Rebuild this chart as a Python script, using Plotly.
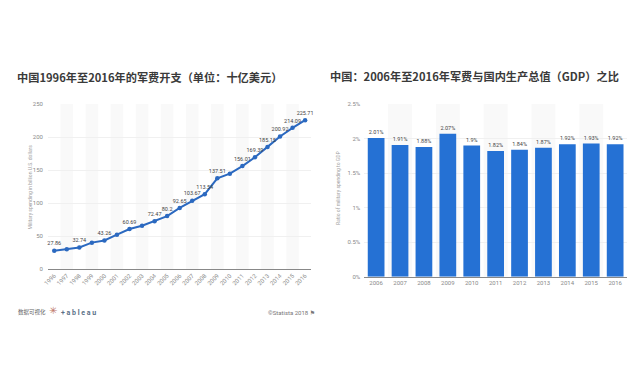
import plotly.graph_objects as go

W, H = 640, 379

# Left chart data
years_l = list(range(1996, 2017))
spend = [27.86, 30.0, 32.74, 40.0, 43.26, 52.0, 60.69, 65.5, 72.47, 80.2, 92.65,
         103.67, 113.54, 137.51, 144.5, 156.01, 169.39, 185.15, 200.92, 214.09, 225.71]
spend_labels = ["27.86", "", "32.74", "", "43.26", "", "60.69", "", "72.47", "80.2", "92.65",
                "103.67", "113.54", "137.51", "", "156.01", "169.39", "185.15", "200.92", "214.09", "225.71"]
ticks_l = [0, 50, 100, 150, 200, 250]

# Right chart data
years_r = list(range(2006, 2017))
ratio = [2.01, 1.91, 1.88, 2.07, 1.9, 1.82, 1.84, 1.87, 1.92, 1.93, 1.92]
ratio_labels = ["2.01%", "1.91%", "1.88%", "2.07%", "1.9%", "1.82%", "1.84%", "1.87%", "1.92%", "1.93%", "1.92%"]
ticks_r = [0, 0.5, 1, 1.5, 2, 2.5]
ticks_r_text = ["0%", "0.5%", "1%", "1.5%", "2%", "2.5%"]

BLUE = "#2571d4"
FONT = "Noto Sans CJK SC, Roboto, sans-serif"
TICK = dict(family="Roboto, sans-serif", size=6, color="#8a8a8a")
LBL = dict(family="Roboto, sans-serif", size=5.5, color="#444444")


def px_x(p):
    return p / W


def px_y(p):
    return 1 - p / H


fig = go.Figure()

fig.add_trace(go.Scatter(
    x=years_l, y=spend, mode="lines+markers+text", text=spend_labels,
    textposition="top center", textfont=LBL,
    line=dict(color="#2b69c0", width=2), marker=dict(color="#2b69c0", size=4.5),
    xaxis="x", yaxis="y", cliponaxis=False, showlegend=False, hoverinfo="skip"))

fig.add_trace(go.Bar(
    x=years_r, y=ratio, text=ratio_labels, textposition="outside", textfont=LBL,
    marker=dict(color=BLUE, line=dict(width=0)), width=0.7,
    xaxis="x2", yaxis="y2", cliponaxis=False, showlegend=False, hoverinfo="skip"))

shapes = []
for yr in years_l[1::2]:
    shapes.append(dict(type="rect", xref="x", yref="y", x0=yr - 0.5, x1=yr + 0.5, y0=0, y1=250,
                       fillcolor="#f9f9f9", line_width=0, layer="below"))
for yr in years_r[1::2]:
    shapes.append(dict(type="rect", xref="x2", yref="y2", x0=yr - 0.5, x1=yr + 0.5, y0=0, y1=2.5,
                       fillcolor="#f9f9f9", line_width=0, layer="below"))

annotations = [
    dict(text="<b>中国1996年至2016年的军费开支（单位：十亿美元）</b>", x=px_x(10), y=px_y(74), xref="paper", yref="paper",
         xanchor="left", yanchor="middle", showarrow=False, font=dict(family=FONT, size=11.2, color="#3a3a3a")),
    dict(text="<b>中国：2006年至2016年军费与国内生产总值（GDP）之比</b>", x=px_x(326), y=px_y(73), xref="paper", yref="paper",
         xanchor="left", yanchor="middle", showarrow=False, font=dict(family=FONT, size=11.2, color="#3a3a3a")),
    dict(text="Military spending in billion U.S. dollars", x=px_x(20), y=px_y(186), xref="paper", yref="paper",
         textangle=-90, showarrow=False, font=dict(family="Roboto, sans-serif", size=5, color="#a0a0a0")),
    dict(text="Ratio of military spending to GDP", x=px_x(335), y=px_y(188), xref="paper", yref="paper",
         textangle=-90, showarrow=False, font=dict(family="Roboto, sans-serif", size=5, color="#a0a0a0")),
    dict(text="数据可视化", x=px_x(11), y=px_y(320), xref="paper", yref="paper", xanchor="left",
         showarrow=False, font=dict(family=FONT, size=5.5, color="#666666")),
    dict(text="✳", x=px_x(42), y=px_y(320), xref="paper", yref="paper",
         showarrow=False, font=dict(family="DejaVu Sans", size=10, color="#c0786a")),
    dict(text="<b>+ a b l e a u</b>", x=px_x(54), y=px_y(320.5), xref="paper", yref="paper", xanchor="left",
         showarrow=False, font=dict(family="Roboto, sans-serif", size=7, color="#5a6f86")),
    dict(text="©Statista 2018 ⚑", x=px_x(314), y=px_y(320), xref="paper", yref="paper", xanchor="right",
         showarrow=False, font=dict(family="Roboto, DejaVu Sans, sans-serif", size=6, color="#777777")),
]

fig.update_layout(
    width=W, height=H, margin=dict(l=0, r=0, t=0, b=0), autosize=False,
    paper_bgcolor="white", plot_bgcolor="white", shapes=shapes, annotations=annotations,
    xaxis=dict(domain=[px_x(43.3), px_x(308.8)], range=[1995.5, 2016.5], tickmode="array",
               tickvals=years_l, ticktext=[str(y) for y in years_l], tickangle=-45, tickfont=TICK,
               showgrid=False, showline=True, linecolor="#888888", linewidth=1, ticks="", zeroline=False),
    yaxis=dict(domain=[px_y(270), px_y(102)], range=[0, 250], tickmode="array", tickvals=ticks_l,
               tickfont=TICK, gridcolor="#f0f0f0", gridwidth=1, zeroline=False, showline=False, ticks="",
               ticklabelstandoff=4),
    xaxis2=dict(domain=[px_x(362), px_x(627)], range=[2005.5, 2016.5], tickmode="array",
                tickvals=years_r, ticktext=[str(y) for y in years_r], tickfont=TICK, anchor="y2",
                showgrid=False, showline=True, linecolor="#888888", linewidth=1, ticks="", zeroline=False),
    yaxis2=dict(domain=[px_y(278), px_y(102)], range=[0, 2.5], tickmode="array", tickvals=ticks_r,
                ticktext=ticks_r_text, tickfont=TICK, anchor="x2", gridcolor="#f0f0f0", gridwidth=1,
                zeroline=False, showline=False, ticks="", ticklabelstandoff=3),
)

fig.write_html("out.html", config=dict(displayModeBar=False),
               post_script="document.body.style.margin='0';document.body.style.overflow='hidden';")
